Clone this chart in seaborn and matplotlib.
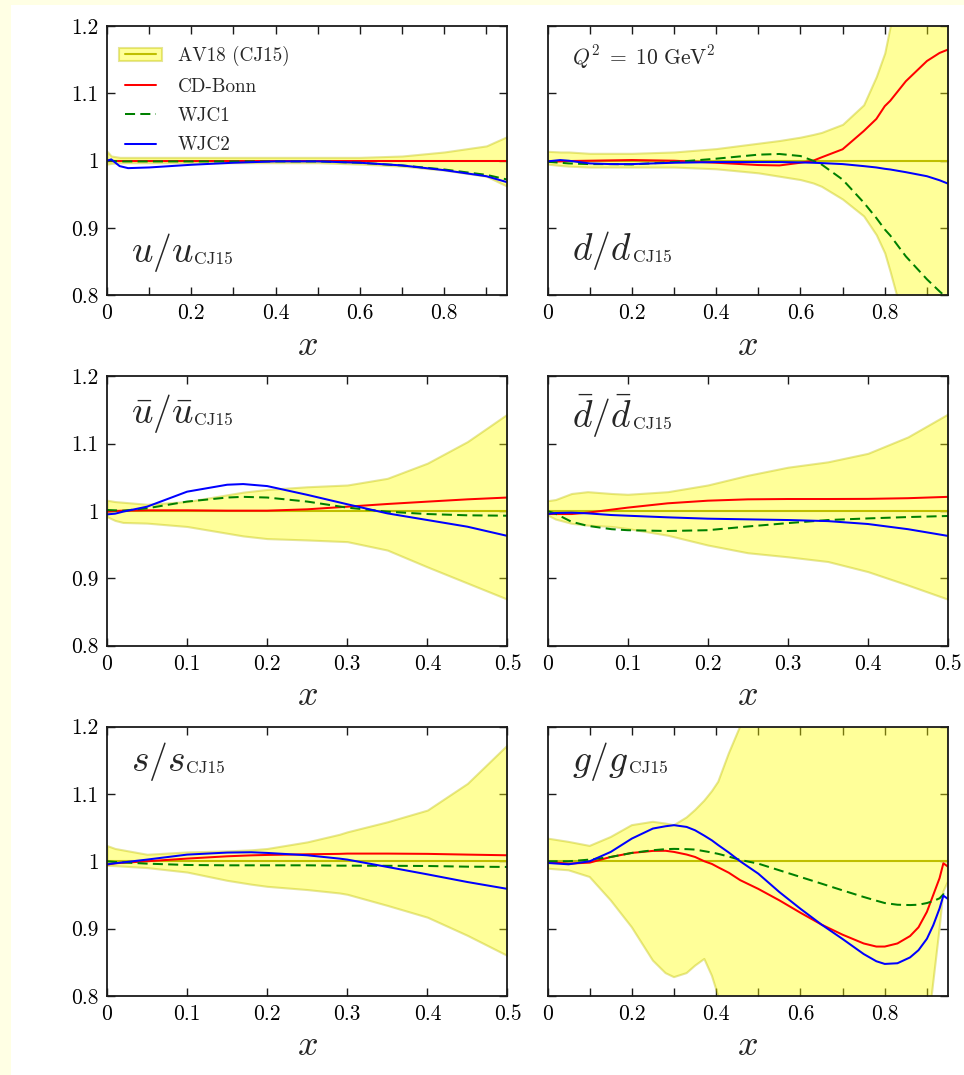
import matplotlib
matplotlib.use("Agg")
import numpy as np
import matplotlib.pyplot as plt
import seaborn as sns
from matplotlib.patches import Patch, Rectangle
from matplotlib.lines import Line2D
from matplotlib.ticker import FixedLocator, FixedFormatter

# ---------------- data: ratios to CJ15 at Q^2 = 10 GeV^2 ----------------
series_names = ["AV18 (CJ15)", "CD-Bonn", "WJC1", "WJC2"]

# u / u_CJ15
u_x = [0, 0.01, 0.03, 0.05, 0.1, 0.2, 0.3, 0.4, 0.5, 0.6, 0.7, 0.8, 0.9, 0.95]
u_hi = [1.014, 1.007, 1.005, 1.005, 1.005, 1.005, 1.005, 1.005, 1.005, 1.005, 1.007, 1.013, 1.022, 1.036]
u_lo = [0.995, 0.996, 0.997, 0.997, 0.997, 0.997, 0.997, 0.997, 0.997, 0.995, 0.992, 0.986, 0.977, 0.962]
u_cdbonn = [1.0, 1.0, 1.0, 1.0, 1.0, 1.0, 1.0, 1.0, 1.0, 1.0, 1.0, 1.0, 1.0, 1.0]
u_wjc1 = [1.0, 1.0, 0.999, 0.999, 0.999, 0.999, 0.999, 0.999, 0.999, 0.997, 0.993, 0.987, 0.979, 0.972]
u_wjc2 = [1.0, 1.002, 0.992, 0.989, 0.990, 0.994, 0.997, 0.999, 0.999, 0.997, 0.993, 0.986, 0.977, 0.968]

# d / d_CJ15
d_x = [0, 0.03, 0.05, 0.1, 0.15, 0.2, 0.3, 0.4, 0.5, 0.55, 0.6, 0.63, 0.65, 0.7, 0.75,
       0.78, 0.8, 0.813, 0.85, 0.9, 0.93, 0.95]
d_hi = [1.014, 1.013, 1.013, 1.011, 1.011, 1.011, 1.013, 1.018, 1.026, 1.030, 1.035, 1.039, 1.042,
        1.054, 1.083, 1.125, 1.16, 1.2, 1.3, 1.45, 1.55, 1.6]
d_lo = [0.995, 0.993, 0.992, 0.9906, 0.9906, 0.9906, 0.9906, 0.988, 0.982, 0.977, 0.972, 0.967,
        0.962, 0.943, 0.918, 0.89, 0.863, 0.835, 0.75, 0.6, 0.5, 0.45]
d_cdbonn = [0.9985, 0.999, 0.9995, 1.0, 1.0005, 1.001, 1.0, 0.997, 0.9936, 0.993, 0.997, 1.0,
            1.005, 1.017, 1.044, 1.062, 1.081, 1.089, 1.118, 1.148, 1.160, 1.165]
d_wjc1 = [0.9985, 0.997, 0.996, 0.995, 0.995, 0.9945, 0.998, 1.003, 1.009, 1.010, 1.007, 1.0,
          0.9945, 0.972, 0.938, 0.915, 0.898, 0.889, 0.858, 0.824, 0.806, 0.795]
d_wjc2 = [0.999, 1.001, 1.0, 0.996, 0.995, 0.995, 0.997, 0.998, 0.998, 0.998, 0.9975, 0.997,
          0.9965, 0.995, 0.992, 0.990, 0.988, 0.987, 0.983, 0.977, 0.971, 0.966]

# ubar / ubar_CJ15
ub_x = [0, 0.01, 0.02, 0.05, 0.1, 0.15, 0.17, 0.2, 0.25, 0.3, 0.35, 0.4, 0.45, 0.5]
ub_hi = [1.016, 1.014, 1.013, 1.010, 1.014, 1.024, 1.028, 1.032, 1.036, 1.0386, 1.0485, 1.071, 1.103, 1.144]
ub_lo = [0.9916, 0.986, 0.983, 0.982, 0.977, 0.967, 0.963, 0.959, 0.957, 0.9545, 0.942, 0.917, 0.893, 0.869]
ub_cdbonn = [0.999, 1.0, 1.0005, 1.001, 1.001, 1.0005, 1.0005, 1.0005, 1.0025, 1.0064, 1.0104, 1.0139, 1.0173, 1.020]
ub_wjc1 = [1.0015, 1.001, 1.0005, 1.004, 1.014, 1.020, 1.021, 1.020, 1.014, 1.005, 0.999, 0.9955, 0.9936, 0.993]
ub_wjc2 = [0.995, 0.996, 0.999, 1.0064, 1.0287, 1.039, 1.040, 1.037, 1.024, 1.010, 0.9965, 0.9866, 0.9767, 0.963]

# dbar / dbar_CJ15
db_x = [0, 0.01, 0.03, 0.05, 0.08, 0.1, 0.15, 0.2, 0.25, 0.3, 0.35, 0.4, 0.45, 0.5]
db_hi = [1.0153, 1.017, 1.026, 1.0287, 1.026, 1.0248, 1.0287, 1.0386, 1.053, 1.065, 1.073, 1.0856, 1.110, 1.144]
db_lo = [0.994, 0.988, 0.9817, 0.979, 0.977, 0.974, 0.964, 0.9495, 0.938, 0.932, 0.925, 0.910, 0.890, 0.869]
db_cdbonn = [0.9955, 0.9955, 0.9955, 0.9975, 1.002, 1.005, 1.0114, 1.0153, 1.0173, 1.0178, 1.0178, 1.018, 1.019, 1.021]
db_wjc1 = [1.0, 0.996, 0.984, 0.978, 0.973, 0.9715, 0.9703, 0.9715, 0.977, 0.982, 0.9866, 0.989, 0.991, 0.9926]
db_wjc2 = [0.9955, 0.997, 0.9975, 0.9965, 0.994, 0.993, 0.9906, 0.9886, 0.9876, 0.9866, 0.985, 0.9807, 0.973, 0.963]

# s / s_CJ15
s_x = [0, 0.01, 0.05, 0.1, 0.15, 0.18, 0.2, 0.25, 0.29, 0.3, 0.35, 0.4, 0.45, 0.5]
s_hi = [1.0233, 1.019, 1.0104, 1.0139, 1.0154, 1.017, 1.019, 1.0288, 1.040, 1.0437, 1.0586, 1.076, 1.1156, 1.173]
s_lo = [0.994, 0.9935, 0.9906, 0.984, 0.9717, 0.966, 0.9628, 0.958, 0.953, 0.951, 0.9345, 0.917, 0.890, 0.860]
s_cdbonn = [0.995, 0.997, 1.0, 1.004, 1.0074, 1.0088, 1.0094, 1.0104, 1.011, 1.0114, 1.0114, 1.011, 1.0099, 1.0089]
s_wjc1 = [1.0, 0.999, 0.9965, 0.9945, 0.994, 0.994, 0.994, 0.994, 0.9935, 0.9935, 0.9933, 0.993, 0.992, 0.9916]
s_wjc2 = [0.9955, 0.997, 1.0025, 1.0099, 1.0129, 1.0134, 1.0124, 1.0089, 1.004, 1.0025, 0.9916, 0.9806, 0.9692, 0.959]

# g / g_CJ15
g_x = [0, 0.05, 0.1, 0.15, 0.2, 0.25, 0.28, 0.3, 0.33, 0.35, 0.372, 0.39, 0.405, 0.43, 0.457,
       0.5, 0.55, 0.6, 0.65, 0.7, 0.75, 0.78, 0.8, 0.83, 0.86, 0.88, 0.9, 0.915, 0.93, 0.939, 0.95]
g_hi = [1.0337, 1.0288, 1.0228, 1.036, 1.0536, 1.0586, 1.056, 1.0536, 1.065, 1.076, 1.090, 1.104,
        1.118, 1.160, 1.2, 1.28, 1.38, 1.48, 1.58, 1.68, 1.78, 1.84, 1.88, 1.94, 2.0, 2.03, 2.06,
        2.08, 2.1, 2.11, 2.12]
g_lo = [0.989, 0.9866, 0.9767, 0.942, 0.902, 0.8526, 0.834, 0.828, 0.834, 0.845, 0.855, 0.83,
        0.80, 0.74, 0.68, 0.60, 0.53, 0.48, 0.44, 0.41, 0.40, 0.40, 0.42, 0.45, 0.52, 0.60, 0.74,
        0.82, 0.90, 0.955, 0.97]
g_cdbonn = [0.999, 0.9965, 0.998, 1.0064, 1.0124, 1.0154, 1.0156, 1.0139, 1.010, 1.0064, 1.0,
            0.996, 0.991, 0.983, 0.972, 0.959, 0.942, 0.9236, 0.906, 0.891, 0.878, 0.8734, 0.8734,
            0.878, 0.889, 0.902, 0.925, 0.950, 0.975, 0.997, 0.992]
g_wjc1 = [1.0, 1.0, 1.0025, 1.0064, 1.0124, 1.0164, 1.018, 1.0184, 1.018, 1.0174, 1.015, 1.013,
          1.011, 1.007, 1.002, 0.9965, 0.9866, 0.9767, 0.9668, 0.9568, 0.947, 0.9415, 0.938,
          0.9355, 0.935, 0.9355, 0.938, 0.941, 0.945, 0.951, 0.947]
g_wjc2 = [0.9975, 0.9955, 1.0, 1.0139, 1.0337, 1.0486, 1.052, 1.0536, 1.051, 1.046, 1.038, 1.031,
          1.024, 1.013, 1.0, 0.9816, 0.9543, 0.9295, 0.906, 0.8846, 0.8623, 0.8516, 0.8476,
          0.8486, 0.8573, 0.868, 0.885, 0.905, 0.93, 0.949, 0.944]

# axis ticks and labels
y_ticks = [0.8, 0.9, 1.0, 1.1, 1.2]
y_ticklabels = ["0.8", "0.9", "1", "1.1", "1.2"]
x_ticks_full = [0, 0.1, 0.2, 0.3, 0.4, 0.5, 0.6, 0.7, 0.8, 0.9]
x_ticklabels_full = ["0", "", "0.2", "", "0.4", "", "0.6", "", "0.8", ""]
x_ticks_sea = [0, 0.1, 0.2, 0.3, 0.4, 0.5]
x_ticklabels_sea = ["0", "0.1", "0.2", "0.3", "0.4", "0.5"]

# ---------------- style ----------------
sns.set_theme(style="ticks")
plt.rcParams.update({
    "font.family": "serif",
    "font.serif": ["cmr10", "DejaVu Serif"],
    "mathtext.fontset": "cm",
    "axes.unicode_minus": False,
    "axes.formatter.use_mathtext": True,
    "xtick.direction": "in",
    "ytick.direction": "in",
    "xtick.top": True,
    "ytick.right": True,
    "axes.edgecolor": "#1a1a1a",
    "axes.linewidth": 1.3,
    "xtick.color": "#1a1a1a",
    "ytick.color": "#1a1a1a",
    "xtick.labelcolor": "black",
    "ytick.labelcolor": "black",
})

C_AV18 = (0.75, 0.75, 0.0)
C_BAND = (1.0, 1.0, 0.0)
C_CDB = (1.0, 0.0, 0.0)
C_WJC1 = (0.0, 0.5, 0.0)
C_WJC2 = (0.0, 0.0, 1.0)
DASH = (0, (5, 2.6))
LW = 1.45

fig = plt.figure(figsize=(9.64, 10.75), dpi=100)
fig.patch.set_facecolor("#ffffe4")
fig.patches.append(Rectangle((11 / 964, 0), 1, 1 - 5 / 1075, transform=fig.transFigure,
                             facecolor="white", edgecolor="none", zorder=-10))

axes = fig.subplots(3, 2)
fig.subplots_adjust(left=107 / 964, right=948 / 964, top=1 - 26 / 1075, bottom=1 - 996 / 1075,
                    wspace=0.1, hspace=0.3)

# (x, band hi, band lo, CD-Bonn, WJC1, WJC2, ratio label, label baseline position, x-range kind)
panels = [
    (u_x, u_hi, u_lo, u_cdbonn, u_wjc1, u_wjc2, r"$u/u$", (0.06, 0.123), "full"),
    (d_x, d_hi, d_lo, d_cdbonn, d_wjc1, d_wjc2, r"$d/d$", (0.062, 0.130), "full"),
    (ub_x, ub_hi, ub_lo, ub_cdbonn, ub_wjc1, ub_wjc2, r"$\bar{u}/\bar{u}$", (0.06, 0.826), "sea"),
    (db_x, db_hi, db_lo, db_cdbonn, db_wjc1, db_wjc2, r"$\bar{d}/\bar{d}$", (0.062, 0.811), "sea"),
    (s_x, s_hi, s_lo, s_cdbonn, s_wjc1, s_wjc2, r"$s/s$", (0.06, 0.834), "sea"),
    (g_x, g_hi, g_lo, g_cdbonn, g_wjc1, g_wjc2, r"$g/g$", (0.062, 0.834), "full"),
]

for i, (ax, (px, hi, lo, cdb, w1, w2, label, lpos, kind)) in enumerate(zip(axes.flat, panels)):
    ax.set_facecolor("white")
    ax.fill_between(px, lo, hi, facecolor=C_BAND, edgecolor=C_AV18, alpha=0.4, lw=1.5, zorder=1)
    ax.axhline(1.0, color=C_AV18, lw=1.5, zorder=2)
    sns.lineplot(x=px, y=cdb, ax=ax, color=C_CDB, lw=LW, sort=False, estimator=None,
                 legend=False, zorder=3)
    sns.lineplot(x=px, y=w1, ax=ax, color=C_WJC1, lw=LW, linestyle=DASH, sort=False,
                 estimator=None, legend=False, zorder=3)
    sns.lineplot(x=px, y=w2, ax=ax, color=C_WJC2, lw=LW, sort=False, estimator=None,
                 legend=False, zorder=3)

    ax.set_ylim(0.8, 1.2)
    ax.yaxis.set_major_locator(FixedLocator(y_ticks))
    if i % 2 == 0:
        ax.yaxis.set_major_formatter(FixedFormatter(y_ticklabels))
    else:
        ax.set_yticklabels([])
    if kind == "full":
        ax.set_xlim(0, 0.95)
        ax.xaxis.set_major_locator(FixedLocator(x_ticks_full))
        ax.xaxis.set_major_formatter(FixedFormatter(x_ticklabels_full))
    else:
        ax.set_xlim(0, 0.5)
        ax.xaxis.set_major_locator(FixedLocator(x_ticks_sea))
        ax.xaxis.set_major_formatter(FixedFormatter(x_ticklabels_sea))
    ax.tick_params(axis="both", which="major", length=6, width=1.0, labelsize=15.5, pad=6)
    ax.set_xlabel(r"$x$", fontsize=26, labelpad=5)
    ax.set_ylabel("")

    # ratio label with a small roman "CJ15" subscript
    main = ax.text(lpos[0], lpos[1], label, transform=ax.transAxes, fontsize=27,
                   va="baseline", ha="left")
    ax.annotate("CJ15", xy=(1.0, lpos[1]), xycoords=(main, ax.transAxes),
                xytext=(0.4, -1.5), textcoords="offset points", fontsize=12.5,
                va="baseline", ha="left")
    for sp in ax.spines.values():
        sp.set_visible(True)
        sp.set_zorder(5)

# legend in the first panel
h_av18 = (Patch(facecolor=C_BAND, edgecolor=C_AV18, alpha=0.4, lw=1.5), Line2D([], [], color=C_AV18, lw=1.5))
h_cdb = Line2D([], [], color=C_CDB, lw=LW)
h_w1 = Line2D([], [], color=C_WJC1, lw=LW, linestyle=DASH)
h_w2 = Line2D([], [], color=C_WJC2, lw=LW)
axes[0, 0].legend([h_av18, h_cdb, h_w1, h_w2], series_names, loc="upper left",
                  bbox_to_anchor=(0.0, 1.0 - 8 / 269), frameon=False,
                  fontsize=13.75, numpoints=2, handlelength=2.25, handletextpad=0.84,
                  labelspacing=0.6, borderaxespad=0.3, borderpad=0.33)

axes[0, 1].text(0.062, 0.885, r"$Q^2\;=\;10\ \mathrm{GeV}^2$", transform=axes[0, 1].transAxes,
                fontsize=15.5, va="center", ha="left")

fig.savefig("out.png", dpi=100, facecolor=fig.get_facecolor())
